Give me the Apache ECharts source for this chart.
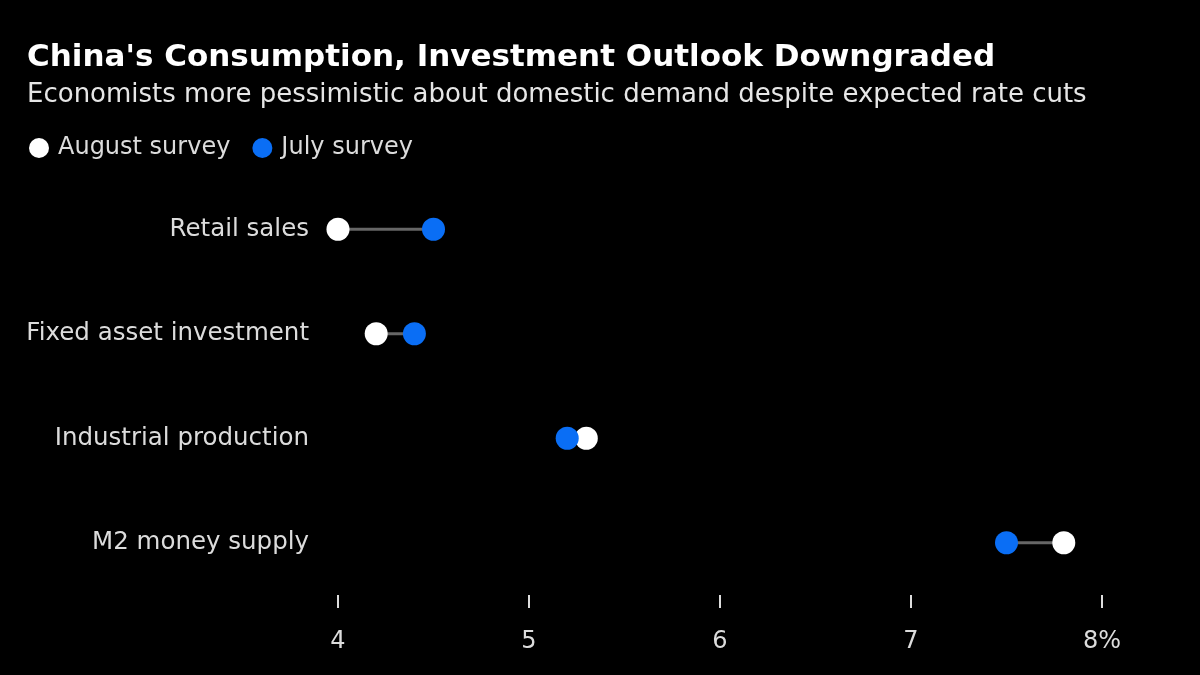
<!DOCTYPE html>
<html><head><meta charset="utf-8">
<script src="https://cdn.jsdelivr.net/npm/echarts@6/dist/echarts.min.js"></script>
<style>html,body{margin:0;padding:0;background:#000;}#c{width:1200px;height:675px;}</style>
</head><body><div id="c"></div>
<script>
const categories = ['Retail sales', 'Fixed asset investment', 'Industrial production', 'M2 money supply'];
const augustSurvey = [4.0, 4.2, 5.3, 7.8];
const julySurvey = [4.5, 4.4, 5.2, 7.5];
const xTicks = [4, 5, 6, 7, 8];

const FONT = 'DejaVu Sans';
const chart = echarts.init(document.getElementById('c'));
chart.setOption({
  backgroundColor: '#000',
  animation: false,
  textStyle: { fontFamily: FONT },
  title: [
    { text: "China's Consumption, Investment Outlook Downgraded", left: 27, top: 42, padding: 0,
      textStyle: { color: '#fff', fontSize: 31, fontWeight: 'bold', fontFamily: FONT } },
    { text: 'Economists more pessimistic about domestic demand despite expected rate cuts', left: 27, top: 82, padding: 0,
      textStyle: { color: '#e6e6e6', fontSize: 26, fontWeight: 'normal', fontFamily: FONT } }
  ],
  legend: {
    left: 29, top: 136, padding: 0, icon: 'circle', itemWidth: 20, itemHeight: 20, itemGap: 22,
    textStyle: { color: '#dcdcdc', fontSize: 24, fontFamily: FONT, padding: [0,0,0,4] },
    data: ['August survey', 'July survey']
  },
  grid: { left: 338, right: 98, top: 177, bottom: 80 },
  xAxis: {
    type: 'value', min: 4, max: 8, interval: 1,
    axisLine: { show: false },
    axisTick: { show: true, length: 13, lineStyle: { color: '#ddd', width: 2 } },
    splitLine: { show: false },
    axisLabel: { color: '#dcdcdc', fontSize: 24, margin: 35, fontFamily: FONT,
      formatter: v => v === 8 ? v + '%' : String(v) }
  },
  yAxis: {
    type: 'category', data: categories, inverse: true,
    axisLine: { show: false }, axisTick: { show: false },
    axisLabel: { color: '#dcdcdc', fontSize: 24.5, margin: 29, fontFamily: FONT }
  },
  series: [
    {
      type: 'custom', name: 'range', silent: true,
      data: categories.map((c, i) => [augustSurvey[i], julySurvey[i], i]),
      encode: { x: [0, 1], y: 2 },
      renderItem: (params, api) => {
        const a = api.coord([api.value(0), api.value(2)]);
        const b = api.coord([api.value(1), api.value(2)]);
        return { type: 'line', shape: { x1: a[0], y1: a[1], x2: b[0], y2: b[1] },
          style: { stroke: '#666', lineWidth: 3 } };
      },
      z: 1
    },
    { type: 'scatter', name: 'August survey', data: augustSurvey.map((v, i) => [v, i]),
      symbol: 'circle', symbolSize: 23, itemStyle: { color: '#ffffff', opacity: 1 }, z: 2 },
    { type: 'scatter', name: 'July survey', data: julySurvey.map((v, i) => [v, i]),
      symbol: 'circle', symbolSize: 23, itemStyle: { color: '#0a6ef5', opacity: 1 }, z: 3 }
  ]
});
</script></body></html>
